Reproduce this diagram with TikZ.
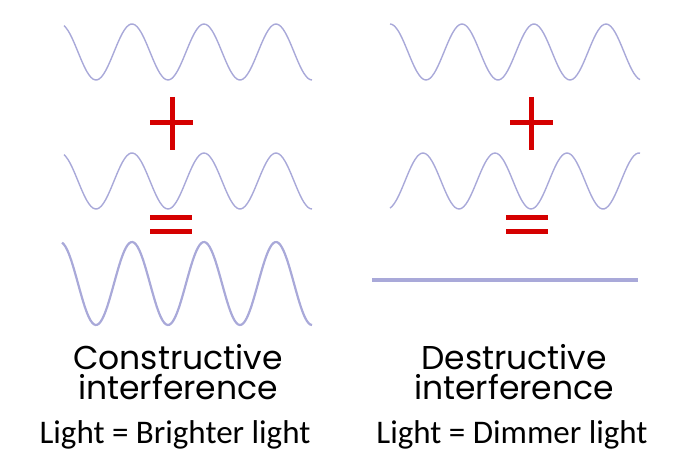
\documentclass[tikz,border=0pt]{standalone}
\usepackage{fontspec}
\setmainfont{Carlito}
\newfontfamily\gothic{Poppins}
\definecolor{wavecol}{HTML}{A9A9D9}
\definecolor{signred}{HTML}{D50000}
\tikzset{
  wave/.style={wavecol, line width=1.4pt, smooth},
  bigwave/.style={wavecol, line width=2.2pt, smooth},
  bar/.style={signred, line width=5pt},
  title/.style={font=\gothic\fontsize{33}{34}\selectfont, inner sep=0pt, anchor=base},
  caption/.style={font=\fontsize{33}{36}\selectfont, inner sep=0pt}
}
\begin{document}
\begin{tikzpicture}[x=1pt,y=1pt]
  \useasboundingbox (0,0) rectangle (687,-462);

  % constructive side
  \draw[wave] plot[domain=64:312, samples=120] (\x, {-52+28*cos(5*(\x-60))});
  \draw[bar] (150,-123) -- (193,-123);
  \draw[bar] (172,-97) -- (172,-150);
  \draw[wave] plot[domain=64:312, samples=120] (\x, {-181+28*cos(5*(\x-60))});
  \draw[bar] (150,-218) -- (192,-218);
  \draw[bar] (150,-231) -- (192,-231);
  \draw[bigwave] plot[domain=62:312, samples=150] (\x, {-283.5+41.5*cos(5*(\x-60))});
  \node[title] (con1) at (178,-369) {Constructive};
  \node[title] (con2) at (178,-399) {interference};
  \node[caption] (bright) at (175,-435) {Light = Brighter light};

  % destructive side
  \draw[wave] plot[domain=390:640, samples=120] (\x, {-52+28*cos(5*(\x-390))});
  \draw[bar] (510,-123) -- (553,-123);
  \draw[bar] (531,-97) -- (531,-150);
  \draw[wave] plot[domain=390:640, samples=120] (\x, {-181+28*cos(5*(\x-423))});
  \draw[bar] (506,-218) -- (548,-218);
  \draw[bar] (506,-231) -- (548,-231);
  \draw[wavecol, line width=4pt] (372,-280) -- (638,-280);
  \node[title] (des1) at (514,-369) {Destructive};
  \node[title] (des2) at (514,-399) {interference};
  \node[caption] (dim) at (512,-435) {Light = Dimmer light};
\end{tikzpicture}
\end{document}
